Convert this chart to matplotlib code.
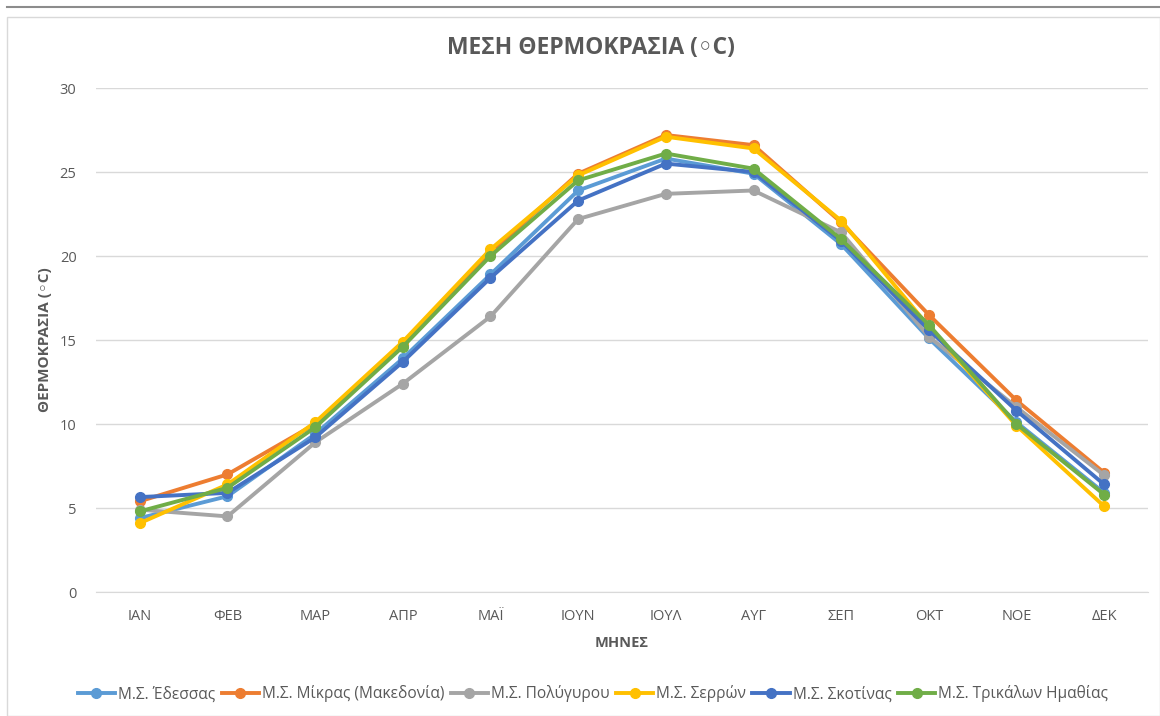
import matplotlib.pyplot as plt
from matplotlib.lines import Line2D
from matplotlib.patches import Rectangle

months = ['ΙΑΝ', 'ΦΕΒ', 'ΜΑΡ', 'ΑΠΡ', 'ΜΑΪ', 'ΙΟΥΝ', 'ΙΟΥΛ', 'ΑΥΓ', 'ΣΕΠ', 'ΟΚΤ', 'ΝΟΕ', 'ΔΕΚ']

names = ['Μ.Σ. Έδεσσας', 'Μ.Σ. Μίκρας (Μακεδονία)', 'Μ.Σ. Πολύγυρου',
         'Μ.Σ. Σερρών', 'Μ.Σ. Σκοτίνας', 'Μ.Σ. Τρικάλων Ημαθίας']

edessa = [4.4, 5.7, 9.4, 13.9, 18.9, 23.9, 25.8, 24.9, 20.7, 15.1, 10.1, 5.9]
mikra = [5.4, 7.0, 10.0, 14.7, 20.2, 24.9, 27.2, 26.6, 22.0, 16.5, 11.4, 7.1]
polygyros = [4.9, 4.5, 8.9, 12.4, 16.4, 22.2, 23.7, 23.9, 21.4, 15.2, 11.0, 6.95]
serres = [4.1, 6.4, 10.1, 14.9, 20.4, 24.8, 27.1, 26.4, 22.1, 15.8, 9.9, 5.1]
skotina = [5.65, 5.9, 9.2, 13.7, 18.7, 23.3, 25.5, 25.0, 20.9, 15.6, 10.8, 6.4]
trikala = [4.8, 6.2, 9.8, 14.6, 20.0, 24.5, 26.1, 25.2, 21.0, 15.9, 10.0, 5.8]

series = [edessa, mikra, polygyros, serres, skotina, trikala]
colors = ['#5B9BD5', '#ED7D31', '#A5A5A5', '#FFC000', '#4472C4', '#70AD47']

plt.rcParams['font.family'] = ['Open Sans', 'DejaVu Sans']
text_col = '#595959'

fig = plt.figure(figsize=(11.6, 7.16), dpi=100)
ax = fig.add_axes([96 / 1160, 1 - 592 / 716, (1148 - 96) / 1160, (592 - 88) / 716])

# chart frame like the spreadsheet
fig.add_artist(Rectangle((7 / 1160, 0), 1 - 7 / 1160, 1 - 17 / 716, transform=fig.transFigure,
                         fill=False, edgecolor='#D9D9D9', linewidth=1))
fig.add_artist(Line2D([7 / 1160, 1], [1 - 7 / 716, 1 - 7 / 716], transform=fig.transFigure,
                      color='#8C8C8C', linewidth=1.5))

x = range(len(months))
for vals, col, nm in zip(series, colors, names):
    ax.plot(x, vals, color=col, linewidth=2.8, marker='o', markersize=7, label=nm)

ax.set_ylim(0, 30)
ax.set_yticks(range(0, 31, 5))
ax.set_xlim(-0.5, len(months) - 0.5)
ax.set_xticks(list(x))
ax.set_xticklabels(months)
ax.grid(axis='y', color='#D9D9D9', linewidth=1)
ax.set_axisbelow(True)
for s in ['top', 'right', 'left']:
    ax.spines[s].set_visible(False)
ax.spines['bottom'].set_color('#D9D9D9')
ax.tick_params(length=0, colors=text_col, labelsize=10.5, pad=12)
ax.tick_params(axis='y', pad=14)

fig.text(591 / 1160, 1 - 48 / 716, 'ΜΕΣΗ ΘΕΡΜΟΚΡΑΣΙΑ (◦C)', ha='center', va='center',
         fontsize=16.5, fontweight='bold', color=text_col)
fig.text(622 / 1160, 1 - 643 / 716, 'ΜΗΝΕΣ', ha='center', va='center',
         fontsize=10.5, fontweight='bold', color=text_col)
fig.text(45 / 1160, 1 - 340 / 716, 'ΘΕΡΜΟΚΡΑΣΙΑ (◦C)', ha='center', va='center', rotation=90,
         fontsize=11, fontweight='bold', color=text_col)

leg = fig.legend(loc='center', bbox_to_anchor=(593 / 1160, 1 - 694 / 716), ncol=6, frameon=False,
                 handlelength=2.4, handletextpad=0.2, columnspacing=0.4,
                 prop={'family': ['Open Sans', 'DejaVu Sans'], 'size': 11.2})
for t in leg.get_texts():
    t.set_color(text_col)

fig.savefig('out.png', dpi=100)
